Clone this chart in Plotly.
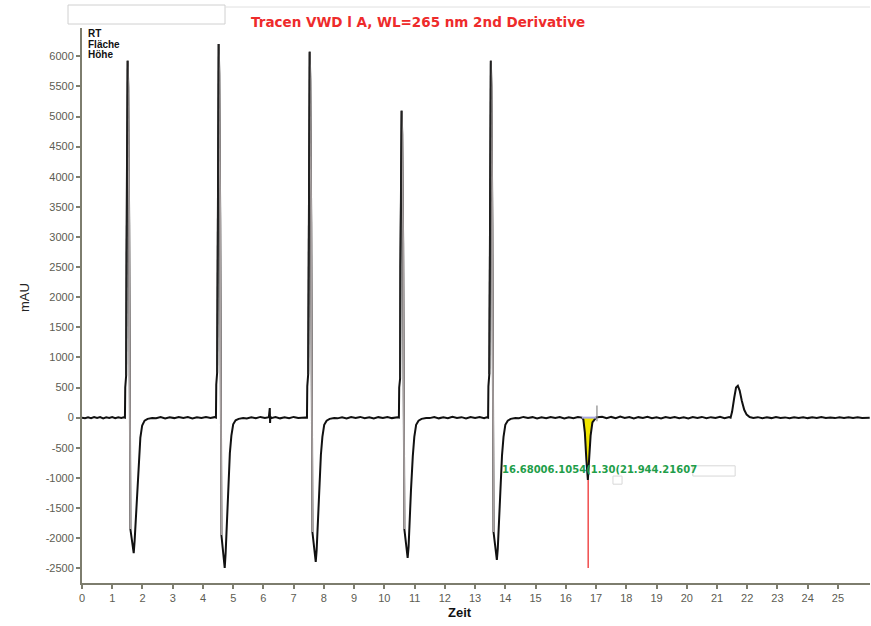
import plotly.graph_objects as go

W, H = 871, 626
ML, MR, MT, MB = 82, 1, 28, 43

# ---------------- data (time in min, signal in mAU) ----------------
seg0_t = [0.00, 0.10, 0.20, 0.30, 0.40, 0.50, 0.60, 0.70, 0.80, 0.90, 1.00, 1.10, 1.20, 1.30, 1.38]
seg0_v = [0, -10, 5, -8, 10, -5, 8, -12, 4, -6, 10, -8, 6, -4, 5]

p1_t = [1.42, 1.43, 1.46, 1.47, 1.51, 1.53, 1.56, 1.60, 1.66, 1.71, 1.74, 1.77, 1.82, 1.88, 1.93, 1.99, 2.07, 2.17, 2.32]
p1_v = [0, 500, 700, 2700, 5925, 5490, 3200, -1850, -2100, -2250, -2050, -1750, -1200, -650, -330, -130, -50, -20, -5]

seg1_t = [2.45, 2.60, 2.75, 2.90, 3.05, 3.20, 3.35, 3.50, 3.65, 3.80, 3.95, 4.10, 4.25, 4.38]
seg1_v = [-10, 8, -15, 5, -8, 12, -5, 10, -12, 6, -4, 10, -6, 8]

p2_t = [4.43, 4.44, 4.47, 4.48, 4.52, 4.54, 4.57, 4.61, 4.67, 4.72, 4.75, 4.78, 4.83, 4.89, 4.94, 5.00, 5.08, 5.18, 5.33]
p2_v = [0, 550, 750, 2900, 6205, 5700, 3300, -1950, -2250, -2497, -2250, -1850, -1320, -590, -300, -110, -45, -20, -5]

seg2_t = [5.45, 5.60, 5.75, 5.90, 6.05, 6.18, 6.21, 6.22, 6.23, 6.26, 6.40, 6.55, 6.70, 6.85, 7.00, 7.15, 7.30, 7.39]
seg2_v = [-15, 5, -10, 12, -6, 8, 160, -90, 20, -8, 10, -12, 5, -10, 12, -6, 8, 4]

p3_t = [7.44, 7.45, 7.48, 7.49, 7.53, 7.55, 7.58, 7.62, 7.68, 7.73, 7.76, 7.79, 7.84, 7.90, 7.95, 8.01, 8.09, 8.19, 8.34]
p3_v = [0, 520, 720, 2800, 6075, 5600, 3250, -1900, -2200, -2397, -2200, -1800, -1250, -620, -320, -120, -50, -20, -5]

seg3_t = [8.45, 8.60, 8.75, 8.90, 9.05, 9.20, 9.35, 9.50, 9.65, 9.80, 9.95, 10.10, 10.25, 10.43]
seg3_v = [-12, 6, -15, 10, -5, 12, -10, 5, -14, 8, -6, 12, -8, 5]

p4_t = [10.48, 10.49, 10.52, 10.53, 10.57, 10.59, 10.62, 10.66, 10.72, 10.77, 10.80, 10.83, 10.88, 10.94, 10.99, 11.05, 11.13, 11.23, 11.38]
p4_v = [0, 500, 650, 2500, 5095, 4700, 2900, -1850, -2150, -2330, -2150, -1750, -1200, -640, -320, -120, -50, -20, -5]

seg4_t = [11.50, 11.65, 11.80, 11.95, 12.10, 12.25, 12.40, 12.55, 12.70, 12.85, 13.00, 13.15, 13.30, 13.38]
seg4_v = [-8, 10, -12, 5, -10, 14, -6, 8, -12, 10, -5, 12, -8, 6]

p5_t = [13.43, 13.44, 13.47, 13.48, 13.52, 13.54, 13.57, 13.61, 13.67, 13.72, 13.75, 13.78, 13.83, 13.89, 13.94, 14.00, 14.08, 14.18, 14.33]
p5_v = [0, 520, 720, 2800, 5925, 5500, 3200, -1900, -2180, -2363, -2180, -1800, -1250, -630, -320, -120, -50, -20, -5]

seg5_t = [14.45, 14.60, 14.75, 14.90, 15.05, 15.20, 15.35, 15.50, 15.65, 15.80, 15.95, 16.10, 16.25, 16.40, 16.50]
seg5_v = [-10, 12, -6, 8, -14, 6, -8, 12, -5, 10, -12, 6, -8, 10, 0]

p6_t = [16.53, 16.58, 16.63, 16.68, 16.73, 16.77, 16.82, 16.88, 16.95, 17.00]
p6_v = [0, -30, -250, -700, -1035, -700, -300, -80, -20, 0]

seg6_t = [17.05, 17.20, 17.35, 17.50, 17.65, 17.80, 17.95, 18.10, 18.25, 18.40, 18.55, 18.70, 18.85, 19.00,
          19.15, 19.30, 19.45, 19.60, 19.75, 19.90, 20.05, 20.20, 20.35, 20.50, 20.65, 20.80, 20.95, 21.10, 21.25, 21.40]
seg6_v = [5, 15, -10, 12, -8, 18, -5, 10, -14, 8, -6, 14, -10, 6, -12, 10, -5, 12, -8, 6, -14, 10, -6, 12, -10, 8, -5, 15, -8, 10]

p7_t = [21.45, 21.50, 21.57, 21.63, 21.69, 21.75, 21.82, 21.90, 21.98, 22.08]
p7_v = [0, 100, 330, 500, 530, 450, 280, 130, 50, 10]

seg7_t = [22.20, 22.35, 22.50, 22.65, 22.80, 22.95, 23.10, 23.25, 23.40, 23.55, 23.70, 23.85, 24.00, 24.15,
          24.30, 24.45, 24.60, 24.75, 24.90, 25.05, 25.20, 25.35, 25.50, 25.65, 25.80, 25.95, 26.05]
seg7_v = [-5, 8, -10, 5, -8, 10, -6, 4, -10, 6, -4, 8, -8, 5, -6, 10, -5, 4, -8, 6, -4, 8, -6, 5, -8, 4, 0]

marker_t = [17.03, 17.03]
marker_v = [200, -60]
red_t = [16.74, 16.74]
red_v = [-1035, -2497]
integ_base_t = [16.53, 17.00]
integ_base_v = [0, 0]

x_ticks = list(range(0, 26))
y_ticks = [6000, 5500, 5000, 4500, 4000, 3500, 3000, 2500, 2000, 1500, 1000, 500, 0,
           -500, -1000, -1500, -2000, -2500]
y_ticktext = [str(v) for v in y_ticks]

title_text = "Tracen VWD l A, WL=265 nm 2nd Derivative"
label_text = "16.68006.1054(1.30(21.944.21607"
legend_lines = ["RT", "Fläche", "Höhe"]

# ---------------- assemble ----------------
all_t = (seg0_t + p1_t + seg1_t + p2_t + seg2_t + p3_t + seg3_t + p4_t + seg4_t +
         p5_t + seg5_t + p6_t + seg6_t + p7_t + seg7_t)
all_v = (seg0_v + p1_v + seg1_v + p2_v + seg2_v + p3_v + seg3_v + p4_v + seg4_v +
         p5_v + seg5_v + p6_v + seg6_v + p7_v + seg7_v)

X_RANGE = [0, 26.06]
Y_RANGE = [-2746, 6470]

fig = go.Figure()

# yellow integrated area
fig.add_trace(go.Scatter(x=p6_t, y=p6_v, mode="lines", fill="toself",
                         fillcolor="#f2e600", line=dict(color="#f2e600", width=0),
                         hoverinfo="skip", showlegend=False))

# main trace
fig.add_trace(go.Scatter(x=all_t, y=all_v, mode="lines",
                         line=dict(color="#111111", width=2),
                         showlegend=False))

# gray strokes on the tall descending parts of the peaks
for pt, pv in [(p1_t, p1_v), (p2_t, p2_v), (p3_t, p3_v), (p4_t, p4_v), (p5_t, p5_v)]:
    fig.add_trace(go.Scatter(x=pt[4:8], y=pv[4:8], mode="lines",
                             line=dict(color="#a9a2a2", width=1.8),
                             hoverinfo="skip", showlegend=False))
    fig.add_trace(go.Scatter(x=pt[2:5], y=[pv[2], pv[3], pv[4]], mode="lines",
                             line=dict(color="#222222", width=1.8),
                             hoverinfo="skip", showlegend=False))

fig.add_trace(go.Scatter(x=integ_base_t, y=integ_base_v, mode="lines",
                         line=dict(color="#a8a8e0", width=2), hoverinfo="skip", showlegend=False))
fig.add_trace(go.Scatter(x=marker_t, y=marker_v, mode="lines",
                         line=dict(color="#888888", width=1.2), hoverinfo="skip", showlegend=False))
fig.add_trace(go.Scatter(x=red_t, y=red_v, mode="lines",
                         line=dict(color="#f04040", width=1.4), hoverinfo="skip", showlegend=False))


def px(xp):
    return (xp - ML) / (W - ML - MR)


def py(yp):
    return (H - MB - yp) / (H - MT - MB)


annotations = [
    dict(text=title_text, x=px(418), y=py(22), xref="paper", yref="paper",
         showarrow=False, xanchor="center", yanchor="middle",
         font=dict(family="DejaVu Sans", size=13.5, color="#ee2b2b", weight="bold")),
    dict(text="mAU", x=px(24), y=py(298), xref="paper", yref="paper", textangle=-90,
         showarrow=False, xanchor="center", yanchor="middle",
         font=dict(family="Liberation Sans", size=13, color="#222222")),
    dict(text="Zeit", x=px(460), y=py(612), xref="paper", yref="paper",
         showarrow=False, xanchor="center", yanchor="middle",
         font=dict(family="Liberation Sans", size=13, color="#111111", weight="bold")),
    dict(text=label_text, x=13.82, y=-869, xref="x", yref="y",
         showarrow=False, xanchor="left", yanchor="middle",
         font=dict(family="DejaVu Sans", size=10, color="#1f9e4a", weight="bold")),
]
for i, s in enumerate(legend_lines):
    annotations.append(dict(text=s, x=px(86), y=py(33 + 11 * i), xref="paper", yref="paper",
                            showarrow=False, xanchor="left", yanchor="middle",
                            font=dict(family="Liberation Sans", size=10, color="#111111",
                                      weight="bold")))

shapes = [
    dict(type="rect", xref="paper", yref="paper", x0=px(68), x1=px(225), y0=py(24), y1=py(5),
         line=dict(color="#d0d0d0", width=1)),
    dict(type="line", xref="paper", yref="paper", x0=px(225), x1=px(870), y0=py(7), y1=py(7),
         line=dict(color="#e0e0e0", width=1)),
    dict(type="rect", xref="x", yref="y", x0=20.2, x1=21.6, y0=-970, y1=-800,
         line=dict(color="#d8d8d8", width=1)),
    dict(type="rect", xref="x", yref="y", x0=17.56, x1=17.86, y0=-1105, y1=-970,
         line=dict(color="#d8d8d8", width=1)),
]

axis_common = dict(showline=True, linecolor="#7d7d6e", linewidth=2, ticks="outside",
                   ticklen=4, tickwidth=1.5, tickcolor="#7d7d6e", showgrid=False,
                   zeroline=False, tickfont=dict(family="Liberation Sans", size=11, color="#5c5c52"))

fig.update_layout(
    width=W, height=H,
    margin=dict(l=ML, r=MR, t=MT, b=MB, autoexpand=False),
    paper_bgcolor="white", plot_bgcolor="white",
    xaxis=dict(range=X_RANGE, tickvals=x_ticks, ticktext=[str(v) for v in x_ticks], **axis_common),
    yaxis=dict(range=Y_RANGE, tickvals=y_ticks, ticktext=y_ticktext, **axis_common),
    annotations=annotations,
    shapes=shapes,
    showlegend=False,
)

fig.write_html("out.html", config={"displayModeBar": False},
               post_script="document.body.style.margin='0';document.body.style.overflow='hidden';")
